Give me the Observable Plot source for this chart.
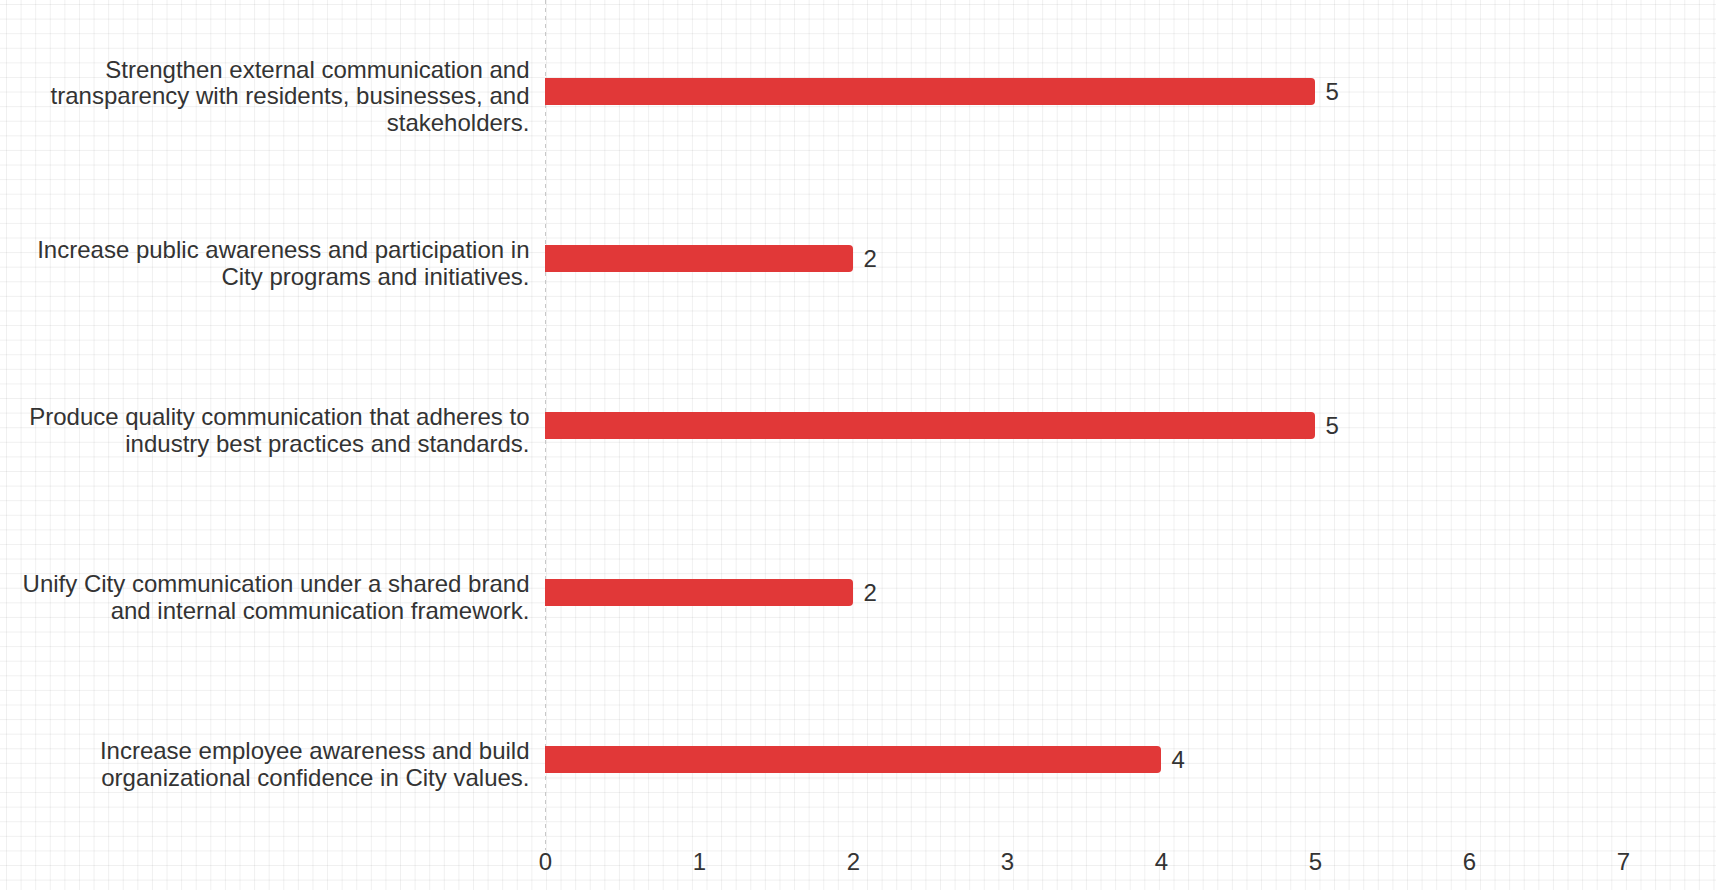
<!DOCTYPE html>
<html>
<head>
<meta charset="utf-8">
<script src="https://cdn.jsdelivr.net/npm/d3@7"></script>
<script src="https://cdn.jsdelivr.net/npm/@observablehq/plot@0.6"></script>
<style>
  html, body { margin: 0; padding: 0; }
  body {
    width: 1716px; height: 890px; overflow: hidden;
    background-color: #ffffff;
    background-image:
      linear-gradient(to right, rgba(0,0,0,0.06) 1px, transparent 1px),
      linear-gradient(to bottom, rgba(0,0,0,0.06) 1px, transparent 1px);
    background-size: 14.6px 14.6px, 14.6px 14.6px;
    background-position: 6px 4px, 6px 4px;
  }
  #chart svg { display: block; background: transparent; }
</style>
</head>
<body>
<div id="chart"></div>
<script>
const categories = [
  "Strengthen external communication and transparency with residents, businesses, and stakeholders.",
  "Increase public awareness and participation in City programs and initiatives.",
  "Produce quality communication that adheres to industry best practices and standards.",
  "Unify City communication under a shared brand and internal communication framework.",
  "Increase employee awareness and build organizational confidence in City values."
];
const labelLines = [
  "Strengthen external communication and\ntransparency with residents, businesses, and\nstakeholders.",
  "Increase public awareness and participation in\nCity programs and initiatives.",
  "Produce quality communication that adheres to\nindustry best practices and standards.",
  "Unify City communication under a shared brand\nand internal communication framework.",
  "Increase employee awareness and build\norganizational confidence in City values."
];
const values = [5, 2, 5, 2, 4];
const xTicks = [0, 1, 2, 3, 4, 5, 6, 7];

const data = categories.map((c, i) => ({cat: c, label: labelLines[i], value: values[i]}));

const chart = Plot.plot({
  width: 1716,
  height: 890,
  marginLeft: 545,
  marginRight: 93,
  marginTop: 0,
  marginBottom: 40,
  style: {background: "transparent", fontFamily: "'Liberation Sans', Arial, sans-serif", color: "#333"},
  x: {domain: [0, 7], label: null},
  y: {domain: categories, paddingInner: 0, paddingOuter: 0.04, axis: null, label: null},
  marks: [
    Plot.ruleX([0], {stroke: "#c8c8c8", strokeDasharray: "4,4", strokeWidth: 1}),
    Plot.barX(data, {x: "value", y: "cat", fill: "#e13838", insetTop: 70, insetBottom: 70, rx2: 4}),
    Plot.text(data, {x: "value", y: "cat", text: d => String(d.value), textAnchor: "start", dx: 10, fontSize: 24, fill: "#333"}),
    Plot.text(data, {x: 0, y: "cat", text: "label", textAnchor: "end", dx: -16, dy: 4, fontSize: 24, lineHeight: 1.1, fill: "#333"}),
    Plot.axisX({ticks: xTicks, tickSize: 0, tickPadding: 2, fontSize: 24, color: "#333", label: null, tickFormat: d => String(d)})
  ]
});
document.getElementById("chart").append(chart);
</script>
</body>
</html>
